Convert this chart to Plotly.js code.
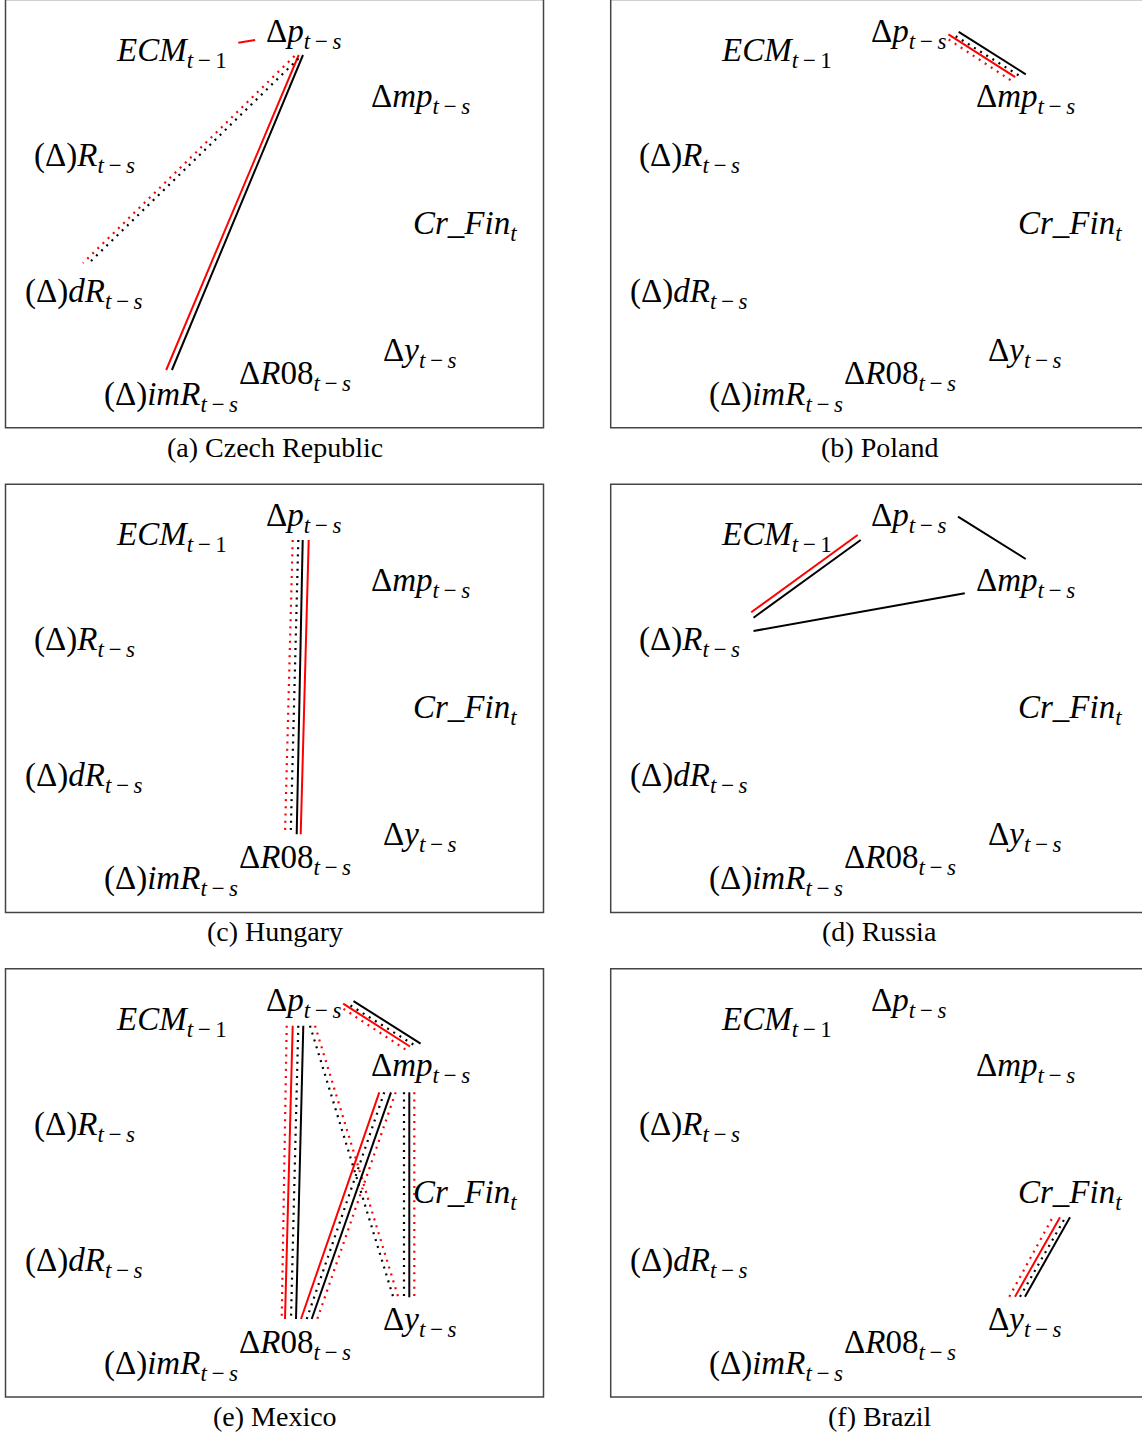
<!DOCTYPE html>
<html>
<head>
<meta charset="utf-8">
<script src="https://cdn.plot.ly/plotly-3.0.1.min.js"></script>
<style>html,body{margin:0;padding:0;background:#fff;}#chart{width:1142px;height:1436px;}</style>
</head>
<body>
<div id="chart"></div>
<script>
// ---------- DATA ----------
const panelCaptions = ["(a) Czech Republic", "(b) Poland", "(c) Hungary", "(d) Russia", "(e) Mexico", "(f) Brazil"];

const TS = "<i>t</i>\u2009−\u2009<i>s</i>";
const nodeNames = ["ECM", "dp", "dmp", "R", "CrFin", "dR", "dy", "dR08", "imR"];
const nodeLabels = [
  "<i>ECM</i><sub><i>t</i>\u2009−\u20091</sub>",
  "Δ<i>p</i><sub>" + TS + "</sub>",
  "Δ<i>mp</i><sub>" + TS + "</sub>",
  "(Δ)<i>R</i><sub>" + TS + "</sub>",
  "<i>Cr</i>_<i>Fin</i><sub><i>t</i></sub>",
  "(Δ)<i>dR</i><sub>" + TS + "</sub>",
  "Δ<i>y</i><sub>" + TS + "</sub>",
  "Δ<i>R</i>08<sub>" + TS + "</sub>",
  "(Δ)<i>imR</i><sub>" + TS + "</sub>"
];
// node label centres inside a panel (panel-local units)
const nodeX = [171, 303, 420, 84, 465, 84, 420, 295, 171];
const nodeY = [52, 33, 98, 157, 225, 293, 352, 375, 396];

// edge segments: panel index, type, endpoints (panel-local units)
// type: rs = red solid, rd = red dotted, bs = black solid, bd = black dotted
const segPanel = [
  0, 0, 0, 0, 0,
  1, 1, 1, 1,
  2, 2, 2, 2,
  3, 3, 3, 3,
  4, 4, 4, 4,  4, 4, 4, 4,  4, 4,  4, 4, 4, 4,  4, 4, 4,
  5, 5, 5, 5
];
const segType = [
  "rs", "bs", "rs", "bd", "rd",
  "bs", "bd", "rs", "rd",
  "rd", "bd", "bs", "rs",
  "rs", "bs", "bs", "bs",
  "bs", "bd", "rs", "rd",  "rd", "rs", "bd", "bs",  "bd", "rd",  "rs", "bd", "bs", "rd",  "bd", "bs", "rd",
  "rd", "rs", "bd", "bs"
];
const segX0 = [
  238.3, 303.0, 298.7, 298.5, 294.5,
  353.5, 350.5, 343.2, 343.5,
  292.7, 298.3, 302.7, 308.7,
  252.4, 255.5, 352.8, 148.3,
  353.5, 350.5, 343.2, 343.5,  286.7, 292.7, 298.3, 303.3,  310.0, 315.0,  379.3, 384.3, 391.0, 395.7,  404.0, 409.3, 414.3,
  404.1, 409.8, 414.8, 419.8
];
const segY0 = [
  42.7, 55.0, 55.0, 58.5, 56.0,
  31.8, 36.2, 34.3, 39.5,
  55.3, 55.3, 55.3, 55.3,
  50.3, 55.3, 32.0, 146.3,
  31.8, 36.2, 34.3, 39.5,  56.4, 56.4, 56.4, 56.4,  56.4, 56.4,  123.0, 123.0, 123.0, 123.0,  123.0, 123.0, 123.0,
  327.4, 327.4, 327.4, 327.4
];
const segX1 = [
  255.1, 171.9, 166.2, 87.5, 83.0,
  420.6, 416.0, 410.0, 405.6,
  285.0, 290.7, 296.7, 300.7,
  146.0, 148.3, 420.5, 359.6,
  420.6, 416.0, 410.0, 405.6,  281.7, 285.0, 291.0, 296.0,  393.3, 398.3,  301.0, 306.7, 311.7, 317.3,  404.0, 409.3, 414.3,
  447.5, 454.8, 459.8, 464.8
];
const segY1 = [
  40.0, 370.0, 370.0, 264.5, 263.0,
  74.3, 76.9, 77.2, 80.3,
  349.6, 349.6, 349.6, 349.6,
  127.6, 133.0, 74.3, 108.6,
  74.3, 76.9, 77.2, 80.3,  349.7, 349.7, 349.7, 349.7,  328.0, 328.0,  349.7, 349.7, 349.7, 349.7,  328.0, 328.0, 328.0,
  248.0, 248.0, 248.7, 248.0
];

// ---------- LAYOUT HELPERS ----------
const colOffset = [0, 605.2];
const rowOffset = [0, 484.7, 969.3];
const panelW = 538, panelH = 428.2, boxLeft = 5.5, boxTop = -0.5;
function offX(p) { return colOffset[p % 2]; }
function offY(p) { return rowOffset[Math.floor(p / 2)]; }

const styles = {
  rs: {color: "#ff0000", dash: "solid", width: 2},
  rd: {color: "#ff0000", dash: "2px,5.2px", width: 2.2},
  bs: {color: "#000000", dash: "solid", width: 2},
  bd: {color: "#000000", dash: "2px,5.2px", width: 2.2}
};

const traces = [];
Object.keys(styles).forEach(function (t) {
  const xs = [], ys = [];
  for (let i = 0; i < segType.length; i++) {
    if (segType[i] !== t) continue;
    const p = segPanel[i];
    xs.push(segX0[i] + offX(p), segX1[i] + offX(p), null);
    ys.push(segY0[i] + offY(p), segY1[i] + offY(p), null);
  }
  traces.push({
    type: "scatter", mode: "lines", x: xs, y: ys, hoverinfo: "skip",
    line: {color: styles[t].color, dash: styles[t].dash, width: styles[t].width}
  });
});

const shapes = [], annotations = [];
for (let p = 0; p < 6; p++) {
  shapes.push({
    type: "rect", xref: "x", yref: "y",
    x0: boxLeft + offX(p), x1: boxLeft + offX(p) + panelW,
    y0: boxTop + offY(p), y1: boxTop + offY(p) + panelH,
    line: {color: "#444444", width: 1.5}, fillcolor: "rgba(0,0,0,0)", layer: "below"
  });
  for (let n = 0; n < nodeNames.length; n++) {
    annotations.push({
      x: nodeX[n] + offX(p), y: nodeY[n] + offY(p), xref: "x", yref: "y",
      text: nodeLabels[n], showarrow: false, xanchor: "center", yanchor: "middle",
      font: {family: "Liberation Serif, serif", size: 33, color: "#000"}
    });
  }
  annotations.push({
    x: boxLeft + offX(p) + panelW / 2, y: 447 + offY(p), xref: "x", yref: "y",
    text: panelCaptions[p], showarrow: false, xanchor: "center", yanchor: "middle",
    font: {family: "Liberation Serif, serif", size: 28, color: "#000"}
  });
}

const layout = {
  width: 1142, height: 1436,
  margin: {l: 0, r: 0, t: 0, b: 0},
  paper_bgcolor: "#ffffff", plot_bgcolor: "#ffffff",
  showlegend: false,
  xaxis: {range: [0, 1142], visible: false, fixedrange: true},
  yaxis: {range: [1436, 0], visible: false, fixedrange: true},
  shapes: shapes, annotations: annotations
};

Plotly.newPlot("chart", traces, layout, {staticPlot: true, displayModeBar: false});
</script>
</body>
</html>
